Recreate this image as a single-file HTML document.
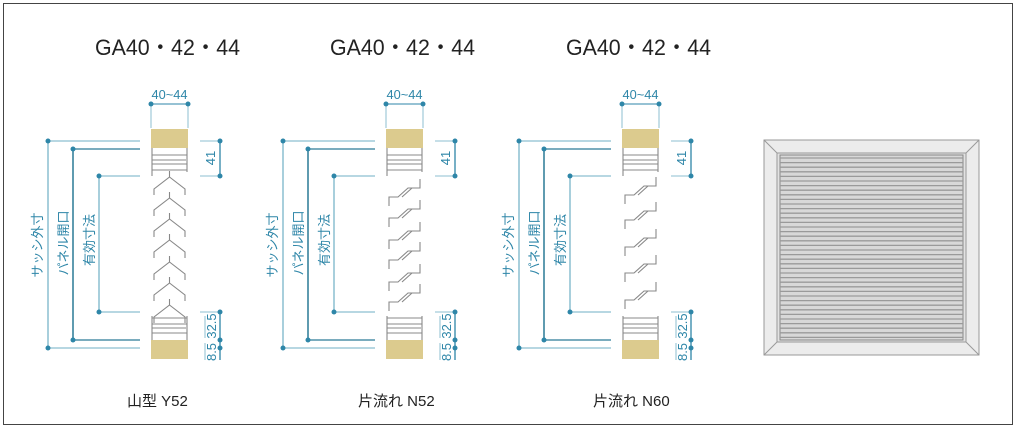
<!DOCTYPE html>
<html><head><meta charset="utf-8"><style>
html,body{margin:0;padding:0;background:#fff}
svg{display:block}
text{font-family:"Liberation Sans","Noto Sans CJK JP",sans-serif}
</style></head><body>
<svg id="s" width="1017" height="429" viewBox="0 0 1017 429" xmlns="http://www.w3.org/2000/svg">
<rect x="3.5" y="3.5" width="1009" height="421" fill="#fff" stroke="#444" stroke-width="1"/>
<g font-size="22" fill="#222">
<text x="95" y="55" textLength="145" lengthAdjust="spacingAndGlyphs">GA40・42・44</text>
<text x="330" y="55" textLength="145" lengthAdjust="spacingAndGlyphs">GA40・42・44</text>
<text x="566" y="55" textLength="145" lengthAdjust="spacingAndGlyphs">GA40・42・44</text>
</g>
<g font-size="15" fill="#222">
<text x="127" y="406">山型  Y52</text>
<text x="358" y="406">片流れ  N52</text>
<text x="593" y="406">片流れ  N60</text>
</g>
<g>
<polygon points="764,140 979,140 979,355 764,355" fill="#ececec" stroke="#999"/>
<polygon points="777,153 966,153 966,342 777,342" fill="#e2e2e2" stroke="#999"/>
<line x1="764" y1="140" x2="777" y2="153" stroke="#999"/>
<line x1="979" y1="140" x2="966" y2="153" stroke="#999"/>
<line x1="764" y1="355" x2="777" y2="342" stroke="#999"/>
<line x1="979" y1="355" x2="966" y2="342" stroke="#999"/>
<rect x="780" y="155" width="183" height="185" fill="#d8d8d8" stroke="#888"/>
<g id="slats"></g>
</g>
<g id="d"></g>
</svg>
<script>
var ns="http://www.w3.org/2000/svg";
function el(p,t,a,txt){var e=document.createElementNS(ns,t);for(var k in a)e.setAttribute(k,a[k]);if(txt)e.textContent=txt;p.appendChild(e);return e;}
var sl=document.getElementById('slats');
for(var y=158;y<340;y+=4.6){el(sl,'line',{x1:780,x2:963,y1:y.toFixed(1),y2:y.toFixed(1),stroke:'#9a9a9a','stroke-width':1.3});}
var d=document.getElementById('d');
var C='#2e86a8',CL='#8cbfd0',CD='#2a7a96';
var offs=[0,235,471];
offs.forEach(function(o,i){
 var g=el(d,'g',{transform:'translate('+o+',0)'});
 var L=151,R=188,cx=169.5;
 el(g,'line',{x1:L,y1:104,x2:R,y2:104,stroke:C});
 el(g,'line',{x1:L,y1:104,x2:L,y2:128,stroke:CL});
 el(g,'line',{x1:R,y1:104,x2:R,y2:128,stroke:CL});
 el(g,'circle',{cx:L,cy:104,r:2.5,fill:C});el(g,'circle',{cx:R,cy:104,r:2.5,fill:C});
 el(g,'text',{x:cx,y:99,'font-size':13,fill:C,'text-anchor':'middle',textLength:36,lengthAdjust:'spacingAndGlyphs'},'40~44');
 el(g,'rect',{x:L,y:129,width:37,height:19,fill:'#dccb8e'});
 el(g,'rect',{x:L,y:340,width:37,height:19,fill:'#dccb8e'});
 var gs={stroke:'#888',fill:'none','stroke-width':1.1};
 el(g,'path',Object.assign({d:'M152,148 V172 M187,148 V172 M152,155 H187 M152,160 H186 M152,164 H187 M152,170 H187 M152,172 V176'},gs));
 el(g,'path',Object.assign({d:'M152,340 V316 M187,340 V316 M152,333 H187 M152,328 H186 M152,324 H187 M152,318 H187'},gs));
 if(i==0){
  [177,198,219,240,262,283,305].forEach(function(y){
   el(g,'path',Object.assign({d:'M'+cx+','+(y-6)+' V'+y+' L154,'+(y+12)+' V'+(y+18)+' M'+cx+','+y+' L185,'+(y+12)+' V'+(y+18)},gs));
  });
 } else {
  var ys=i==1?[197,218,240,260,282,302]:[195,220,247,273,300];
  ys.forEach(function(y){
   el(g,'path',Object.assign({d:'M154,'+(y+9)+' V'+y+' H163 L173,'+(y-9)+' H185 V'+(y-18)+' M167,'+y+' L177,'+(y-9)},gs));
  });
 }
 var xs=[48,73,99]; var ys2=[[141,348],[149,340],[176,312]]; var cols=[CL,CD,CL];
 for(var k=0;k<3;k++){
  el(g,'line',{x1:xs[k],y1:ys2[k][0],x2:xs[k],y2:ys2[k][1],stroke:cols[k],'stroke-width':1.5});
  el(g,'line',{x1:xs[k],y1:ys2[k][0],x2:140,y2:ys2[k][0],stroke:cols[k],'stroke-width':1.2});
  el(g,'line',{x1:xs[k],y1:ys2[k][1],x2:140,y2:ys2[k][1],stroke:cols[k],'stroke-width':1.2});
  el(g,'circle',{cx:xs[k],cy:ys2[k][0],r:2.5,fill:C});el(g,'circle',{cx:xs[k],cy:ys2[k][1],r:2.5,fill:C});
 }
 var labs=[['サッシ外寸',42,245],['パネル開口',68,243],['有効寸法',94,240]];
 labs.forEach(function(l){el(g,'text',{x:0,y:0,'font-size':13,fill:C,'text-anchor':'middle',transform:'translate('+l[1]+','+l[2]+') rotate(-90)'},l[0]);});
 el(g,'line',{x1:220,y1:141,x2:220,y2:176,stroke:C,'stroke-width':1.3});
 el(g,'line',{x1:200,y1:141,x2:220,y2:141,stroke:CL});
 el(g,'line',{x1:200,y1:176,x2:220,y2:176,stroke:CL});
 el(g,'circle',{cx:220,cy:141,r:2.5,fill:C});el(g,'circle',{cx:220,cy:176,r:2.5,fill:C});
 el(g,'text',{x:0,y:0,'font-size':13,fill:C,'text-anchor':'middle',transform:'translate(215,158) rotate(-90)'},'41');
 el(g,'line',{x1:220,y1:312,x2:220,y2:360,stroke:C,'stroke-width':1.3});
 el(g,'line',{x1:200,y1:312,x2:220,y2:312,stroke:CL});
 el(g,'line',{x1:205,y1:316,x2:205,y2:338,stroke:CL});
 el(g,'line',{x1:205,y1:343,x2:205,y2:360,stroke:CL});
 el(g,'circle',{cx:220,cy:312,r:2.5,fill:C});el(g,'circle',{cx:220,cy:340,r:2.5,fill:C});el(g,'circle',{cx:220,cy:348,r:2.5,fill:C});
 el(g,'text',{x:0,y:0,'font-size':13,fill:C,'text-anchor':'middle',transform:'translate(216,326) rotate(-90)'},'32.5');
 el(g,'text',{x:0,y:0,'font-size':13,fill:C,'text-anchor':'middle',transform:'translate(216,352) rotate(-90)'},'8.5');
});
</script>
</body></html>
